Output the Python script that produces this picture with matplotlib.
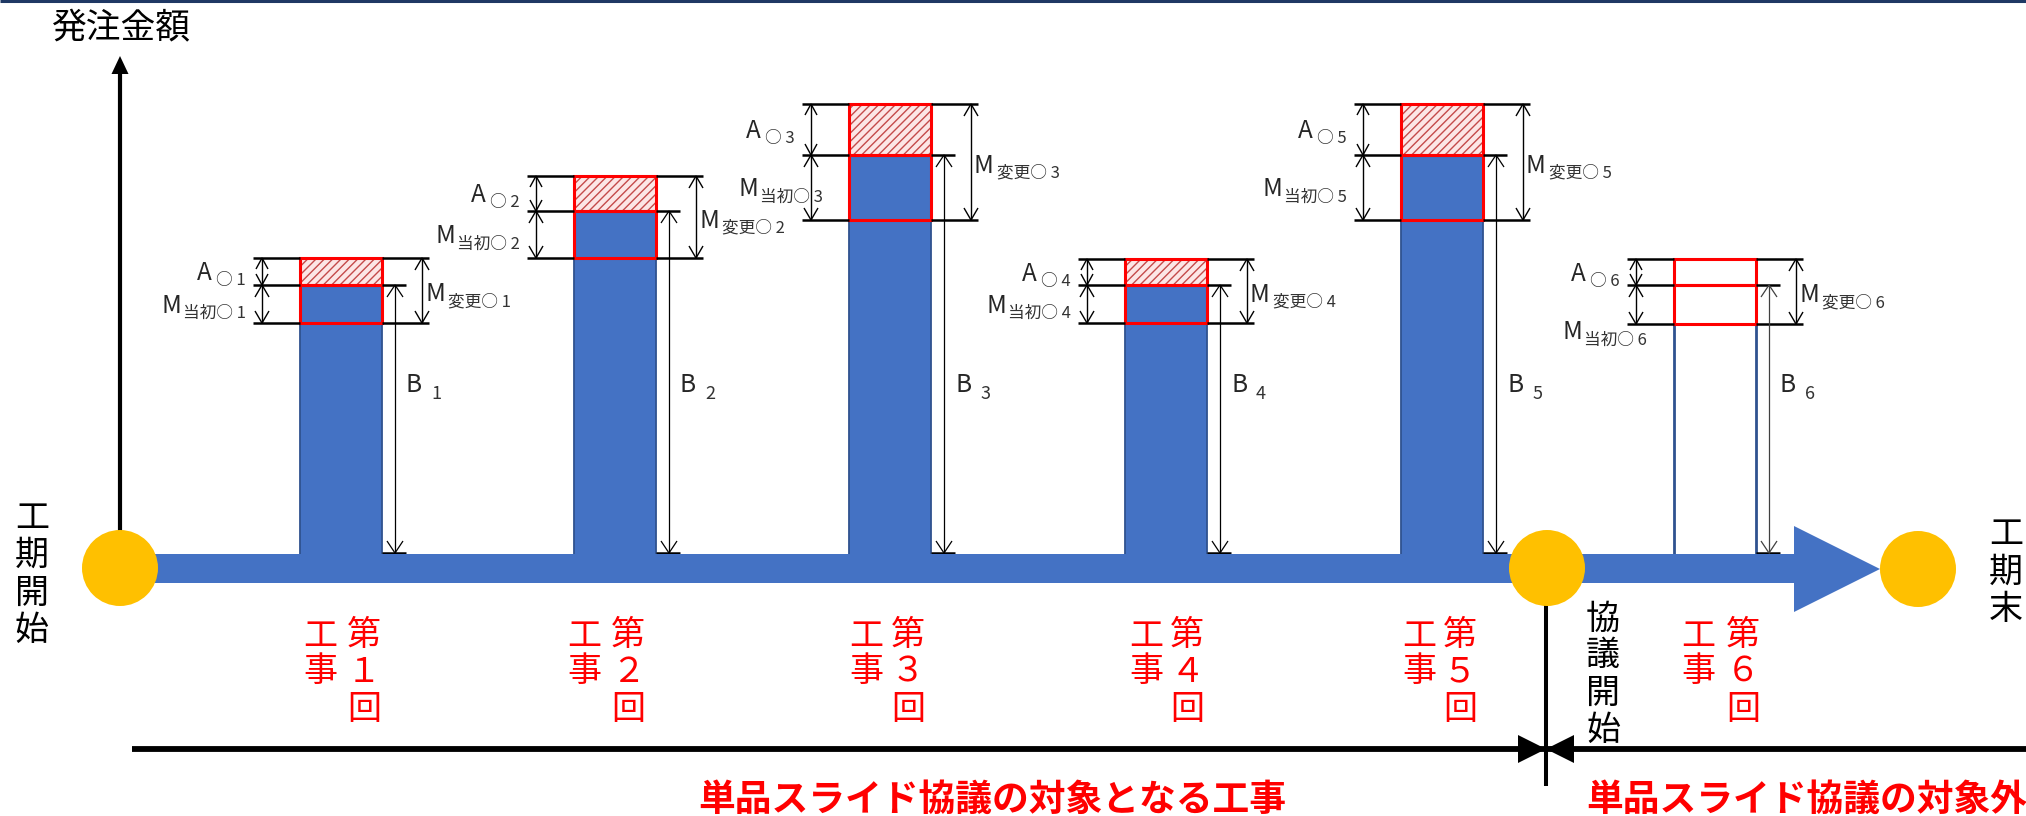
import matplotlib
matplotlib.use('Agg')
import matplotlib.pyplot as plt
from matplotlib.patches import Circle, Polygon

plt.rcParams['font.family'] = ['Noto Sans CJK JP', 'DejaVu Sans']
plt.rcParams['hatch.linewidth'] = 1.0

# ---------------- data ----------------
work_ids = [1, 2, 3, 4, 5, 6]                 # 第n回工事
B_vals = [232, 297, 335, 232, 335, 231]       # B n  (base amount)
M_init = [38, 47, 65, 38, 65, 39]             # M当初○n
A_vals = [27, 35, 51, 26, 51, 26]             # A○n  (slide increase)
in_scope = [True, True, True, True, True, False]

y_axis_label = '発注金額'
start_label = '工期開始'
end_label = '工期末'
consult_label = '協議開始'
in_scope_label = '単品スライド協議の対象となる工事'
out_scope_label = '単品スライド協議の対象外'

# ---------------- layout ----------------
W, H, DPI = 2026, 816, 100
def Y(p):
    return H - p

bar_left = [300, 574, 849, 1125, 1401, 1674]
bar_w = 82
base = Y(555)
label_cols = [(320, 364), (584, 628), (866, 908), (1146, 1187), (1419, 1460), (1698, 1743)]
minit_dx = [-54, -54, -26, -54, -54, -27]
minit_dy = [0, 0, 0, 0, 0, -26]

BLUE = '#4472C4'
DBLUE = '#2F528F'
GOLD = '#FFC000'
RED = '#FF0000'
TXT = '#262626'

fig = plt.figure(figsize=(W / DPI, H / DPI), dpi=DPI)
ax = fig.add_axes([0, 0, 1, 1])
ax.set_xlim(0, W)
ax.set_ylim(0, H)
ax.axis('off')
renderer = fig.canvas.get_renderer()

# top border
ax.plot([0, W], [Y(1), Y(1)], color='#1F3864', lw=2.2, solid_capstyle='butt')


def dim_arrow(x, y_top, y_bot, hw=6.5, hl=11.5, lw=1.0, color='black'):
    kw = dict(color=color, lw=lw, solid_joinstyle='miter', solid_capstyle='butt', zorder=4)
    ax.plot([x, x], [y_bot, y_top], **kw)
    ax.plot([x - hw, x, x + hw], [y_top - hl, y_top, y_top - hl], **kw)
    ax.plot([x - hw, x, x + hw], [y_bot + hl, y_bot, y_bot + hl], **kw)


def hline(x0, x1, y, lw=1.8):
    ax.plot([x0, x1], [y, y], color='black', lw=lw, solid_capstyle='butt', zorder=4)


def sub_label(x, yc, main, sub, anchor, main_size=17.5, sub_size=12, gap=4, drop=5):
    cap = main_size * DPI / 72 * 0.733
    yb = yc - cap / 2
    if anchor == 'right':
        ts = ax.text(x, yb - drop, sub, fontsize=sub_size, ha='right', va='baseline', color='#333333')
        bb = ts.get_window_extent(renderer)
        ax.text(bb.x0 - gap, yb, main, fontsize=main_size, ha='right', va='baseline', color=TXT)
    else:
        tm = ax.text(x, yb, main, fontsize=main_size, ha='left', va='baseline', color=TXT)
        bb = tm.get_window_extent(renderer)
        ax.text(bb.x1 + gap, yb - drop, sub, fontsize=sub_size, ha='left', va='baseline', color='#333333')


def vtext(x, ys, s, size, color='black', weight='normal'):
    for ch, yy in zip(s, ys):
        ax.text(x, Y(yy), ch, fontsize=size, ha='center', va='center', color=color, fontweight=weight)


fw = str.maketrans('0123456789', '０１２３４５６７８９')

# ---------------- bars ----------------
for i, n in enumerate(work_ids):
    x0 = bar_left[i]
    b, m, a = B_vals[i], M_init[i], A_vals[i]
    xr = x0 + bar_w
    if in_scope[i]:
        ax.bar(x0, b + m, width=bar_w, bottom=base, align='edge', color=BLUE,
               edgecolor=DBLUE, lw=1.3, zorder=2)
        ax.bar(x0, a, width=bar_w, bottom=base + b + m, align='edge', color='#FCE6E6',
               edgecolor='#C44A4A', lw=0, hatch='////', zorder=2)
    else:
        ax.bar(x0, b, width=bar_w, bottom=base, align='edge', color='white',
               edgecolor=DBLUE, lw=2.0, zorder=2)
    ax.bar(x0, m, width=bar_w, bottom=base + b, align='edge', fill=False,
           edgecolor=RED, lw=2.2, zorder=3)
    ax.bar(x0, a, width=bar_w, bottom=base + b + m, align='edge', fill=False,
           edgecolor=RED, lw=2.2, zorder=3)

    y_bot = base + b
    y_mid = base + b + m
    y_top = base + b + m + a
    # left dimension lines
    for yy in (y_top, y_mid, y_bot):
        hline(x0 - 47, x0, yy)
    dim_arrow(x0 - 38, y_top, y_mid, hw=6, hl=11)
    dim_arrow(x0 - 38, y_mid, y_bot, hw=7, hl=12)
    # right dimension lines
    hline(xr, xr + 47, y_top)
    hline(xr, xr + 47, y_bot)
    hline(xr, xr + 24, y_mid)
    hline(xr, xr + 24, Y(553))
    dim_arrow(xr + 40, y_top, y_bot, hw=7, hl=12)
    dim_arrow(xr + 13, y_mid, Y(553), hw=8, hl=12, lw=0.9,
              color='black' if in_scope[i] else '#404040')

    # labels
    sub_label(x0 - 54, (y_top + y_mid) / 2, 'A', '○ %d' % n, 'right', gap=5)
    sub_label(x0 + minit_dx[i], (y_mid + y_bot) / 2 + minit_dy[i], 'M', '当初○ %d' % n, 'right', gap=2)
    sub_label(xr + 43, (y_top + y_bot) / 2 - 2, 'M', '変更○ %d' % n, 'left', gap=3)
    sub_label(xr + 24, Y(383), 'B', '%d' % n, 'left', sub_size=13, gap=9, drop=7)

    # red vertical work labels
    cl, cr = label_cols[i]
    vtext(cr, [635, 672, 710], '第' + str(n).translate(fw) + '回', 24.5, color=RED)
    vtext(cl, [637, 672], '工事', 24.5, color=RED)

# ---------------- timeline ----------------
band = Polygon([(120, Y(554)), (1794, Y(554)), (1794, Y(526)), (1880, Y(569)),
                (1794, Y(612)), (1794, Y(583)), (120, Y(583))],
               closed=True, facecolor=BLUE, edgecolor='none', zorder=5)
ax.add_patch(band)
for cx, cy in [(120, 568), (1547, 568), (1918, 569)]:
    ax.add_patch(Circle((cx, Y(cy)), 38, facecolor=GOLD, edgecolor='none', zorder=6))

# y axis arrow
ax.plot([120, 120], [Y(531), Y(70)], color='black', lw=3.0, solid_capstyle='butt', zorder=4)
ax.add_patch(Polygon([(111.5, Y(74)), (128.5, Y(74)), (120, Y(56))], closed=True,
                     facecolor='black', edgecolor='none', zorder=4))
ax.text(121, Y(29), y_axis_label, fontsize=25, ha='center', va='center', color='black')

# vertical texts
vtext(32, [518, 555, 593, 630], start_label, 24.5)
vtext(2006, [535, 572, 609], end_label, 24.5)
vtext(1603, [619, 656, 693, 730], consult_label, 24.5)

# bottom scope line
ax.plot([1546, 1546], [Y(604), Y(786)], color='black', lw=2.9, solid_capstyle='butt', zorder=4)
ax.plot([132, W], [Y(749), Y(749)], color='black', lw=4.2, solid_capstyle='butt', zorder=4)
ax.add_patch(Polygon([(1518, Y(735)), (1518, Y(763)), (1546, Y(749))], closed=True,
                     facecolor='black', edgecolor='none', zorder=4))
ax.add_patch(Polygon([(1574, Y(735)), (1574, Y(763)), (1546, Y(749))], closed=True,
                     facecolor='black', edgecolor='none', zorder=4))

ax.text(698, Y(800), in_scope_label, fontsize=26.5, fontweight='bold', color=RED,
        ha='left', va='center')
ax.text(1586, Y(800), out_scope_label, fontsize=26.5, fontweight='bold', color=RED,
        ha='left', va='center')

fig.savefig('out.png', dpi=DPI, facecolor='white')
